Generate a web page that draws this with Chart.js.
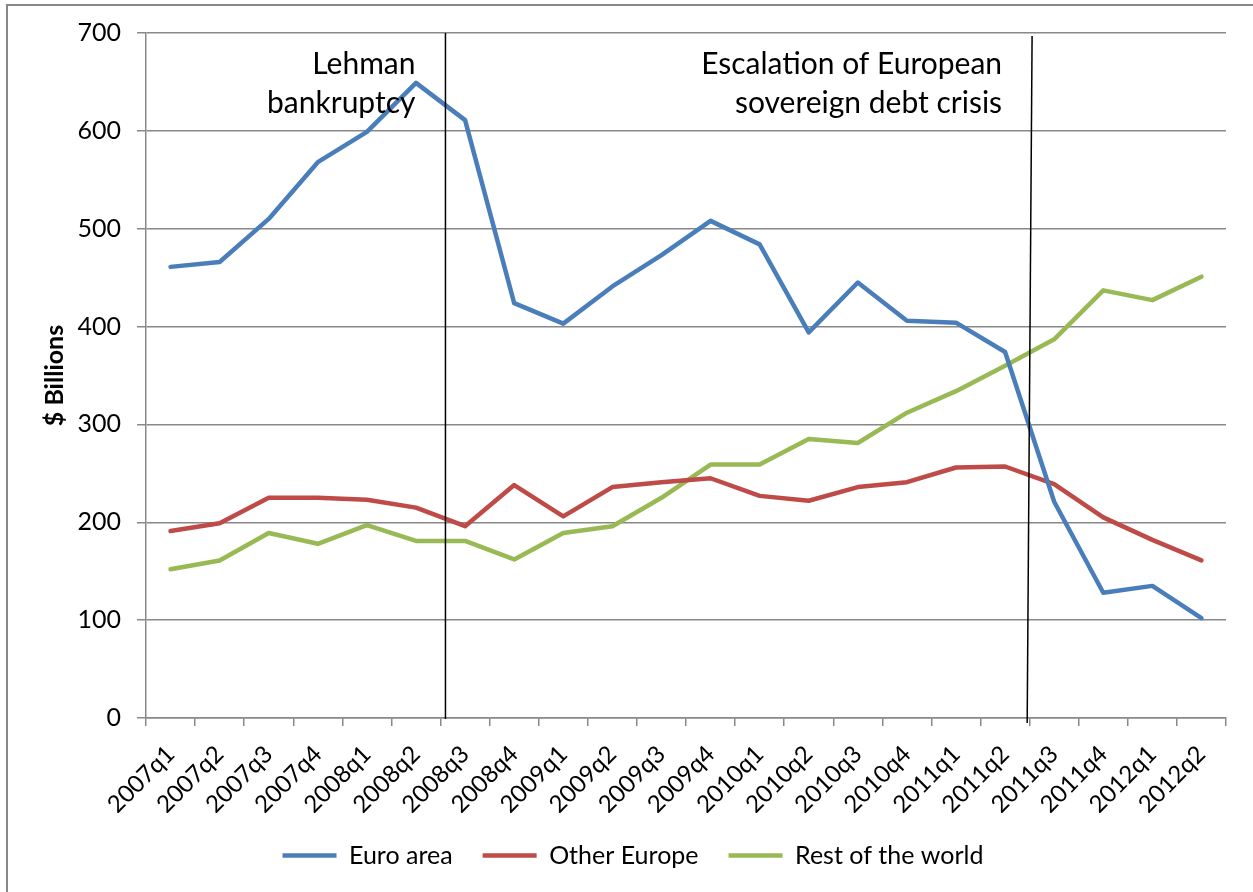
<!DOCTYPE html>
<html>
<head>
<meta charset="utf-8">
<script src="https://cdn.jsdelivr.net/npm/chart.js@4/dist/chart.umd.min.js"></script>
<style>
  html, body { margin: 0; padding: 0; background: #fff; overflow: hidden; }
  #frame { position: absolute; left: 6px; top: 4px; width: 1400px; height: 1000px;
           border-left: 2px solid #888; border-top: 2px solid #888; }
  #wrap { position: absolute; left: 0; top: 0; width: 1253px; height: 892px; }
</style>
</head>
<body>
<div id="frame"></div>
<div id="wrap"><canvas id="chart" width="1253" height="892"></canvas></div>
<script>
// ─── Data ─────────────────────────────────────────────────────────────────────
const quarters = [
    '2007q1', '2007q2', '2007q3', '2007q4', '2008q1', '2008q2', '2008q3', '2008q4',
    '2009q1', '2009q2', '2009q3', '2009q4', '2010q1', '2010q2', '2010q3', '2010q4',
    '2011q1', '2011q2', '2011q3', '2011q4', '2012q1', '2012q2',
];
const euroArea = [
    461, 466, 510, 568, 599, 649, 611, 424, 403, 441, 473,
    508, 484, 394, 445, 406, 404, 374, 221, 128, 135, 102,
];
const otherEurope = [
    191, 199, 225, 225, 223, 215, 196, 238, 206, 236, 241,
    245, 227, 222, 236, 241, 256, 257, 239, 205, 182, 161,
];
const restOfWorld = [
    152, 161, 189, 178, 197, 181, 181, 162, 189, 196, 225,
    259, 259, 285, 281, 312, 334, 360, 387, 437, 427, 451,
];
const yTicks = [0, 100, 200, 300, 400, 500, 600, 700];

// event markers: position on the category axis (top / bottom end), label lines
const eventTopAt = [5.6, 17.55];
const eventBottomAt = [5.6, 17.45];
const eventTopValue = [700, 697];
const eventBottomValue = [-1, -5];
const eventText = [
    ['Lehman', 'bankruptcy'],
    ['Escalation of European', 'sovereign debt crisis'],
];

// ─── Style ────────────────────────────────────────────────────────────────────
const FONT = 'Lato, "Open Sans", sans-serif';
const GRID = '#888888';
const BLUE = '#4a7ebb';
const RED = '#be4b48';
const GREEN = '#98b954';

// ─── Event line plugin ────────────────────────────────────────────────────────
const eventLines = {
    id: 'eventLines',
    afterDatasetsDraw(chart) {
        const { ctx, scales: { x, y } } = chart;
        ctx.save();
        ctx.strokeStyle = '#000';
        ctx.lineWidth = 1.5;
        eventTopAt.forEach((top, i) => {
            const x1 = x.getPixelForValue(top);
            const x2 = x.getPixelForValue(eventBottomAt[i]);
            ctx.beginPath();
            ctx.moveTo(x1, y.getPixelForValue(eventTopValue[i]));
            ctx.lineTo(x2, y.getPixelForValue(eventBottomValue[i]));
            ctx.stroke();

            ctx.fillStyle = '#000';
            ctx.font = `30px ${FONT}`;
            ctx.textAlign = 'right';
            ctx.textBaseline = 'middle';
            const tx = x1 - 30;
            ctx.fillText(eventText[i][0], tx, y.getPixelForValue(668));
            ctx.fillText(eventText[i][1], tx, y.getPixelForValue(628));
        });
        ctx.restore();
    },
};

// ─── Chart ────────────────────────────────────────────────────────────────────
const series = (label, data, color) => ({
    label,
    data,
    borderColor: color,
    backgroundColor: color,
    borderWidth: 4.5,
    borderCapStyle: 'round',
    borderJoinStyle: 'round',
    pointRadius: 0,
    tension: 0,
});

new Chart(document.getElementById('chart'), {
    type: 'line',
    data: {
        labels: quarters,
        datasets: [
            series('Euro area', euroArea, BLUE),
            series('Other Europe', otherEurope, RED),
            series('Rest of the world', restOfWorld, GREEN),
        ],
    },
    options: {
        responsive: false,
        animation: false,
        layout: { padding: { top: 33, right: 27, bottom: 14, left: 40 } },
        plugins: {
            legend: {
                position: 'bottom',
                labels: {
                    color: '#000',
                    font: { family: FONT, size: 25 },
                    usePointStyle: true,
                    pointStyle: 'line',
                    pointStyleWidth: 54,
                    boxHeight: 4,
                    padding: 30,
                },
            },
            tooltip: { enabled: false },
        },
        scales: {
            x: {
                offset: true,
                grid: {
                    offset: true,
                    drawOnChartArea: false,
                    drawTicks: true,
                    tickLength: 8,
                    color: GRID,
                    lineWidth: 1.5,
                },
                border: { display: true, color: GRID, width: 1.5 },
                ticks: {
                    color: '#000',
                    font: { family: FONT, size: 24 },
                    autoSkip: false,
                    maxRotation: 45,
                    minRotation: 45,
                    padding: 14,
                },
                afterFit(scale) { scale.height = 95; },
            },
            y: {
                min: 0,
                max: 700,
                afterBuildTicks(scale) { scale.ticks = yTicks.map(v => ({ value: v })); },
                grid: { color: GRID, lineWidth: 1.5, tickLength: 9 },
                border: { display: true, color: GRID, width: 1.5 },
                ticks: {
                    color: '#000',
                    font: { family: FONT, size: 25 },
                    padding: 16,
                },
                title: {
                    display: true,
                    text: '$ Billions',
                    color: '#000',
                    font: { family: FONT, size: 25, weight: 'bold' },
                    padding: { top: 0, bottom: 0 },
                },
                afterFit(scale) { scale.width = 106; },
            },
        },
    },
    plugins: [eventLines],
});
</script>
</body>
</html>
